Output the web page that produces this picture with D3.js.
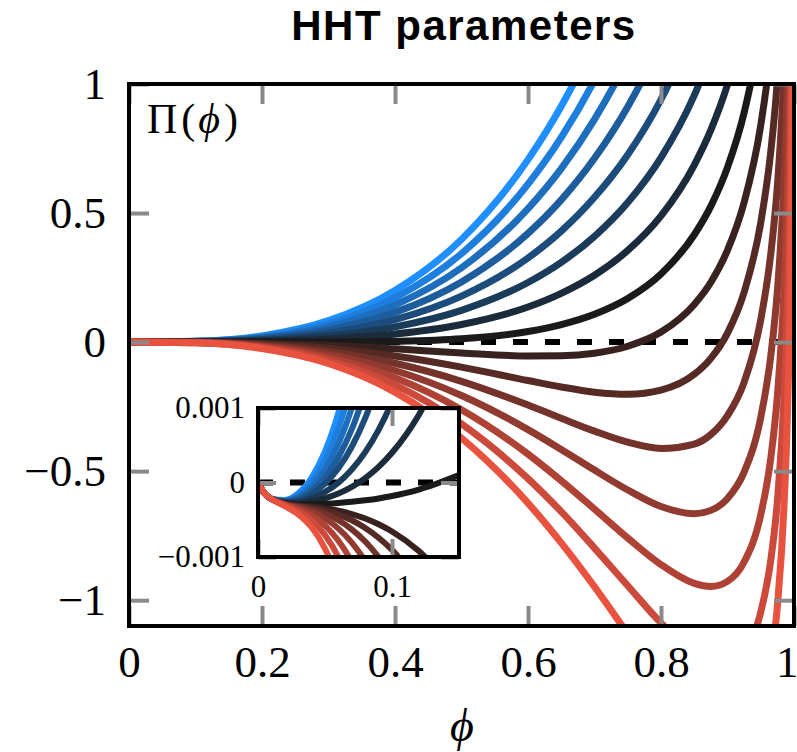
<!DOCTYPE html>
<html>
<head>
<meta charset="utf-8">
<script src="https://cdn.jsdelivr.net/npm/d3@7"></script>
<style>
  body { margin: 0; background: #fff; }
</style>
</head>
<body>
<svg id="chart" width="797" height="752"></svg>
<script>
// phi sample points for the main panel
const phi = [0, 0.1, 0.2, 0.3, 0.4, 0.5, 0.6, 0.65, 0.7, 0.75, 0.8, 0.85, 0.875, 0.9, 0.925, 0.95, 0.965, 0.975, 0.985, 0.99, 0.995, 0.998, 0.999];

// Pi(phi), blue -> black -> red
const curve01 = [0, 0.003, 0.024, 0.083, 0.200, 0.398, 0.707, 0.914, 1.165, 1.469];
const curve02 = [0, 0.003, 0.021, 0.071, 0.172, 0.343, 0.612, 0.793, 1.014, 1.283, 1.616];
const curve03 = [0, 0.002, 0.017, 0.059, 0.144, 0.288, 0.517, 0.672, 0.863, 1.098, 1.391];
const curve04 = [0, 0.002, 0.014, 0.047, 0.115, 0.233, 0.421, 0.551, 0.712, 0.912, 1.165, 1.497];
const curve05 = [0, 0.001, 0.010, 0.035, 0.087, 0.178, 0.326, 0.430, 0.561, 0.726, 0.940, 1.226, 1.411];
const curve06 = [0, 0.001, 0.007, 0.024, 0.059, 0.123, 0.231, 0.309, 0.410, 0.541, 0.715, 0.956, 1.116, 1.318];
const curve07 = [0, 0.000, 0.003, 0.012, 0.031, 0.068, 0.136, 0.189, 0.259, 0.355, 0.489, 0.686, 0.822, 0.998, 1.238, 1.594];
const curve08 = [0, 0.000, 0.000, 0.000, 0.003, 0.013, 0.041, 0.068, 0.108, 0.169, 0.264, 0.416, 0.527, 0.677, 0.889, 1.217, 1.526];
const curve09 = [0, -0.001, -0.004, -0.012, -0.026, -0.042, -0.054, -0.053, -0.043, -0.016, 0.039, 0.146, 0.232, 0.356, 0.541, 0.840, 1.131, 1.423];
const curve10 = [0, -0.001, -0.007, -0.024, -0.054, -0.097, -0.149, -0.174, -0.194, -0.202, -0.186, -0.125, -0.063, 0.035, 0.193, 0.463, 0.736, 1.015, 1.468];
const curve11 = [0, -0.001, -0.011, -0.036, -0.082, -0.152, -0.244, -0.295, -0.345, -0.388, -0.412, -0.395, -0.358, -0.285, -0.156, 0.086, 0.340, 0.607, 1.048, 1.417];
const curve12 = [0, -0.002, -0.015, -0.048, -0.110, -0.207, -0.339, -0.416, -0.496, -0.573, -0.637, -0.665, -0.652, -0.606, -0.504, -0.292, -0.055, 0.200, 0.627, 0.991, 1.641];
const curve13 = [0, -0.002, -0.018, -0.060, -0.138, -0.262, -0.434, -0.537, -0.647, -0.759, -0.862, -0.935, -0.947, -0.927, -0.852, -0.669, -0.451, -0.208, 0.207, 0.564, 1.208, 2.094];
const curve14 = [0, -0.003, -0.022, -0.072, -0.166, -0.317, -0.529, -0.657, -0.798, -0.944, -1.088, -1.206, -1.242, -1.248, -1.200, -1.046, -0.846, -0.616, -0.214, 0.137, 0.774, 1.657];
const curve15 = [0, -0.003, -0.025, -0.083, -0.194, -0.372, -0.624, -0.778, -0.948, -1.130, -1.313, -1.476, -1.537, -1.569, -1.548, -1.424, -1.241, -1.024, -0.634, -0.290, 0.341, 1.219, 1.900];

const curves = [curve01, curve02, curve03, curve04, curve05, curve06, curve07, curve08,
                curve09, curve10, curve11, curve12, curve13, curve14, curve15];

// inset: small phi, Pi in units of 1e-3
const insetPhi = [0, 0.005, 0.01, 0.02, 0.03, 0.04, 0.05, 0.06, 0.07, 0.08, 0.09, 0.1, 0.12, 0.15];
const inset01 = [0, -0.15, -0.22, -0.234, -0.145, 0.066, 0.416, 0.937, 1.664];
const inset02 = [0, -0.15, -0.22, -0.242, -0.172, 0.003, 0.292, 0.723, 1.324];
const inset03 = [0, -0.15, -0.22, -0.250, -0.198, -0.057, 0.174, 0.519, 1.000, 1.640];
const inset04 = [0, -0.15, -0.22, -0.256, -0.220, -0.110, 0.070, 0.340, 0.715, 1.216];
const inset05 = [0, -0.15, -0.22, -0.262, -0.239, -0.154, -0.016, 0.191, 0.480, 0.864, 1.358];
const inset06 = [0, -0.15, -0.22, -0.269, -0.263, -0.212, -0.127, -0.002, 0.174, 0.407, 0.707, 1.081, 2.090];
const inset07 = [0, -0.15, -0.22, -0.274, -0.281, -0.255, -0.213, -0.149, -0.060, 0.058, 0.209, 0.399, 0.907, 2.058];
const inset08 = [0, -0.15, -0.22, -0.279, -0.297, -0.292, -0.285, -0.274, -0.259, -0.239, -0.214, -0.181, -0.095, 0.100];
const inset09 = [0, -0.15, -0.22, -0.283, -0.310, -0.323, -0.345, -0.377, -0.423, -0.483, -0.561, -0.658, -0.919, -1.510];
const inset10 = [0, -0.15, -0.22, -0.285, -0.316, -0.339, -0.376, -0.431, -0.507, -0.610, -0.741, -0.905, -1.345];
const inset11 = [0, -0.15, -0.22, -0.288, -0.326, -0.361, -0.420, -0.507, -0.629, -0.792, -1.000, -1.260];
const inset12 = [0, -0.15, -0.22, -0.292, -0.340, -0.394, -0.484, -0.619, -0.806, -1.055, -1.375];
const inset13 = [0, -0.15, -0.22, -0.298, -0.360, -0.442, -0.578, -0.781, -1.064, -1.440];
const inset14 = [0, -0.15, -0.22, -0.306, -0.388, -0.507, -0.705, -1.000, -1.410];
const inset15 = [0, -0.15, -0.22, -0.318, -0.427, -0.601, -0.888, -1.316];

const insetCurves = [inset01, inset02, inset03, inset04, inset05, inset06, inset07, inset08,
                     inset09, inset10, inset11, inset12, inset13, inset14, inset15];

const xTicks = [0, 0.2, 0.4, 0.6, 0.8, 1];
const xTickLabels = ["0", "0.2", "0.4", "0.6", "0.8", "1"];
const yTicks = [-1, -0.5, 0, 0.5, 1];
const yTickLabels = ["\u22121", "\u22120.5", "0", "0.5", "1"];
const insetXTicks = [0, 0.1];
const insetXTickLabels = ["0", "0.1"];
const insetYTicks = [-1, 0, 1];
const insetYTickLabels = ["\u22120.001", "0", "0.001"];

const serif = "'Liberation Serif', 'Times New Roman', serif";
const tickGray = "#8a8a8a";

const svg = d3.select("#chart");

// main panel
const x = d3.scaleLinear().domain([0, 1]).range([129, 794]);
const y = d3.scaleLinear().domain([-1.1, 1]).range([626, 84]);
const color = d3.piecewise(d3.interpolateRgb, ["#1f8fff", "#1a1a1a", "#ea5240"]);

svg.append("clipPath").attr("id", "mainClip")
  .append("rect")
  .attr("x", x(0)).attr("y", y(1))
  .attr("width", x(1) - x(0)).attr("height", y(-1.1) - y(1));

const plot = svg.append("g").attr("clip-path", "url(#mainClip)");

plot.append("line")
  .attr("x1", x(0)).attr("x2", x(1))
  .attr("y1", y(0)).attr("y2", y(0))
  .attr("stroke", "black")
  .attr("stroke-width", 6)
  .attr("stroke-dasharray", "15,17");

const line = d3.line()
  .x((d, i) => x(phi[i]))
  .y(d => y(d))
  .curve(d3.curveMonotoneX);

curves.forEach((c, i) => {
  plot.append("path")
    .attr("d", line(c))
    .attr("fill", "none")
    .attr("stroke", color(i / (curves.length - 1)))
    .attr("stroke-width", 7);
});

// ticks (inward, gray), labels outside
function styleAxis(g, size) {
  g.select(".domain").remove();
  g.selectAll(".tick line").attr("stroke", tickGray).attr("stroke-width", 4);
  g.selectAll(".tick text").attr("font-family", serif).attr("font-size", size).attr("fill", "black");
}

svg.append("g")
  .attr("transform", `translate(0,${y(-1.1)})`)
  .call(d3.axisBottom(x).tickValues(xTicks).tickFormat((d, i) => xTickLabels[i])
    .tickSizeInner(-20).tickSizeOuter(0).tickPadding(19))
  .call(g => styleAxis(g, 45))
  .call(g => g.selectAll(".tick text").filter(d => d === 1).attr("text-anchor", "end").attr("dx", 4));

svg.append("g")
  .attr("transform", `translate(0,${y(1)})`)
  .call(d3.axisTop(x).tickValues(xTicks).tickFormat("").tickSizeInner(-20).tickSizeOuter(0))
  .call(g => styleAxis(g, 45));

svg.append("g")
  .attr("transform", `translate(${x(0)},0)`)
  .call(d3.axisLeft(y).tickValues(yTicks).tickFormat((d, i) => yTickLabels[i])
    .tickSizeInner(-20).tickSizeOuter(0).tickPadding(23))
  .call(g => styleAxis(g, 45));

svg.append("g")
  .attr("transform", `translate(${x(1)},0)`)
  .call(d3.axisRight(y).tickValues(yTicks).tickFormat("").tickSizeInner(-20).tickSizeOuter(0))
  .call(g => styleAxis(g, 45));

svg.append("rect")
  .attr("x", x(0)).attr("y", y(1))
  .attr("width", x(1) - x(0)).attr("height", y(-1.1) - y(1))
  .attr("fill", "none")
  .attr("stroke", "black")
  .attr("stroke-width", 4);

// inset
const xi = d3.scaleLinear().domain([0, 0.15]).range([258, 459]);
const yi = d3.scaleLinear().domain([-1, 1]).range([557, 408]);

svg.append("rect")
  .attr("x", xi(0)).attr("y", yi(1))
  .attr("width", xi(0.15) - xi(0)).attr("height", yi(-1) - yi(1))
  .attr("fill", "white");

svg.append("clipPath").attr("id", "insetClip")
  .append("rect")
  .attr("x", xi(0)).attr("y", yi(1))
  .attr("width", xi(0.15) - xi(0)).attr("height", yi(-1) - yi(1));

const inset = svg.append("g").attr("clip-path", "url(#insetClip)");

inset.append("line")
  .attr("x1", xi(0)).attr("x2", xi(0.15))
  .attr("y1", yi(0)).attr("y2", yi(0))
  .attr("stroke", "black")
  .attr("stroke-width", 6)
  .attr("stroke-dasharray", "15,17");

const insetLine = d3.line()
  .x((d, i) => xi(insetPhi[i]))
  .y(d => yi(d))
  .curve(d3.curveMonotoneX);

insetCurves.forEach((c, i) => {
  inset.append("path")
    .attr("d", insetLine(c))
    .attr("fill", "none")
    .attr("stroke", color(i / (insetCurves.length - 1)))
    .attr("stroke-width", 6);
});

svg.append("g")
  .attr("transform", `translate(0,${yi(-1)})`)
  .call(d3.axisBottom(xi).tickValues(insetXTicks).tickFormat((d, i) => insetXTickLabels[i])
    .tickSizeInner(-18).tickSizeOuter(0).tickPadding(18))
  .call(g => styleAxis(g, 31));

svg.append("g")
  .attr("transform", `translate(0,${yi(1)})`)
  .call(d3.axisTop(xi).tickValues(insetXTicks).tickFormat("").tickSizeInner(-18).tickSizeOuter(0))
  .call(g => styleAxis(g, 31));

svg.append("g")
  .attr("transform", `translate(${xi(0)},0)`)
  .call(d3.axisLeft(yi).tickValues(insetYTicks).tickFormat((d, i) => insetYTickLabels[i])
    .tickSizeInner(-18).tickSizeOuter(0).tickPadding(13))
  .call(g => styleAxis(g, 31));

svg.append("g")
  .attr("transform", `translate(${xi(0.15)},0)`)
  .call(d3.axisRight(yi).tickValues(insetYTicks).tickFormat("").tickSizeInner(-18).tickSizeOuter(0))
  .call(g => styleAxis(g, 31));

svg.append("rect")
  .attr("x", xi(0)).attr("y", yi(1))
  .attr("width", xi(0.15) - xi(0)).attr("height", yi(-1) - yi(1))
  .attr("fill", "none")
  .attr("stroke", "black")
  .attr("stroke-width", 4);

// labels
svg.append("text")
  .attr("x", 464).attr("y", 40)
  .attr("text-anchor", "middle")
  .attr("font-family", "'Liberation Sans', Arial, sans-serif")
  .attr("font-weight", "bold")
  .attr("font-size", 42)
  .attr("letter-spacing", 1.5)
  .text("HHT parameters");

const piLabel = svg.append("text")
  .attr("x", 147).attr("y", 133)
  .attr("font-family", serif)
  .attr("font-size", 42);
piLabel.append("tspan").text("\u03A0");
piLabel.append("tspan").attr("dx", 4).text("(");
piLabel.append("tspan").attr("dx", 3).attr("font-style", "italic").text("\u03D5");
piLabel.append("tspan").attr("dx", 4).text(")");

svg.append("text")
  .attr("x", 462).attr("y", 741)
  .attr("text-anchor", "middle")
  .attr("font-family", serif)
  .attr("font-style", "italic")
  .attr("font-size", 46)
  .text("\u03D5");
</script>
</body>
</html>
